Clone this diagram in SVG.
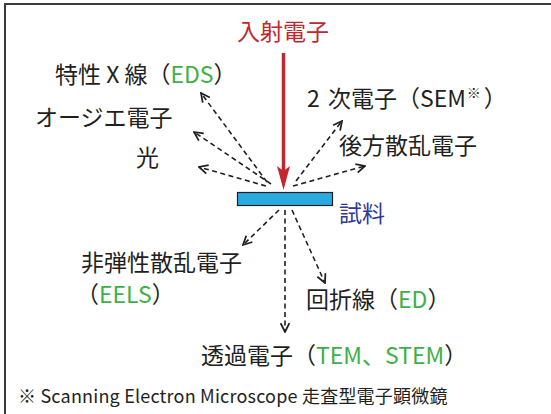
<svg xmlns="http://www.w3.org/2000/svg" width="551" height="414" viewBox="0 0 551 414">
<defs>
<style>
text{font-family:"Noto Sans CJK JP","Noto Sans",sans-serif;fill:#231f20;font-size:23px}
.g{fill:#3db049}
.d{fill:none;stroke:#231f20;stroke-width:1.6;stroke-dasharray:5 3.5;marker-end:url(#oa)}
</style>
<marker id="oa" viewBox="0 0 10 10" refX="9" refY="5" markerWidth="11" markerHeight="11" markerUnits="userSpaceOnUse" orient="auto">
<path d="M1,1 L9,5 L1,9" fill="none" stroke="#231f20" stroke-width="1.6"/>
</marker>
</defs>
<rect x="5" y="4" width="560" height="420" fill="#fff" stroke="#3a3a3a" stroke-width="2"/>
<g id="connectors">
<line x1="283.5" y1="53" x2="283.5" y2="172" stroke="#c1272d" stroke-width="3.5"/>
<path d="M283.5,190 L277,166 L283.5,171 L290,166 Z" fill="#c1272d"/>
<line class="d" x1="267" y1="182" x2="201" y2="93"/>
<line class="d" x1="271" y1="184" x2="194" y2="132"/>
<line class="d" x1="266" y1="186" x2="199" y2="167"/>
<line class="d" x1="296" y1="181" x2="342" y2="121"/>
<line class="d" x1="293" y1="186" x2="365" y2="166"/>
<line class="d" x1="279" y1="210" x2="243" y2="245"/>
<line class="d" x1="285" y1="210" x2="285" y2="332"/>
<line class="d" x1="292" y1="210" x2="325" y2="283"/>
</g>
<g id="incident"><text x="283" y="40" text-anchor="middle" style="fill:#c1272d">入射電子</text></g>
<g id="sample"><rect x="237.5" y="192.5" width="95" height="13" fill="#29abe2" stroke="#231f20" stroke-width="1.2"/>
<text x="339" y="222" style="fill:#2e3a96">試料</text></g>
<g id="eds"><text x="55" y="83">特性 X 線（<tspan class="g">EDS</tspan>）</text></g>
<g id="auger"><text x="35" y="126">オージエ電子</text></g>
<g id="light"><text x="136" y="166">光</text></g>
<g id="sem"><text x="307" y="107">2 <tspan dx="3">次電子（SEM</tspan><tspan font-size="14" dy="-9" dx="1">※</tspan><tspan dy="9" dx="3">）</tspan></text></g>
<g id="bse"><text x="339" y="154">後方散乱電子</text></g>
<g id="eels"><text x="81" y="271">非弾性散乱電子</text><text x="76" y="303">（<tspan class="g">EELS</tspan>）</text></g>
<g id="ed"><text x="306" y="308">回折線（<tspan class="g">ED</tspan>）</text></g>
<g id="tem"><text x="201" y="364">透過電子（<tspan class="g">TEM、STEM</tspan>）</text></g>
<g id="note"><text x="18" y="403" style="font-size:18px;letter-spacing:0.2px">※ Scanning Electron Microscope 走査型電子顕微鏡</text></g>
</svg>
